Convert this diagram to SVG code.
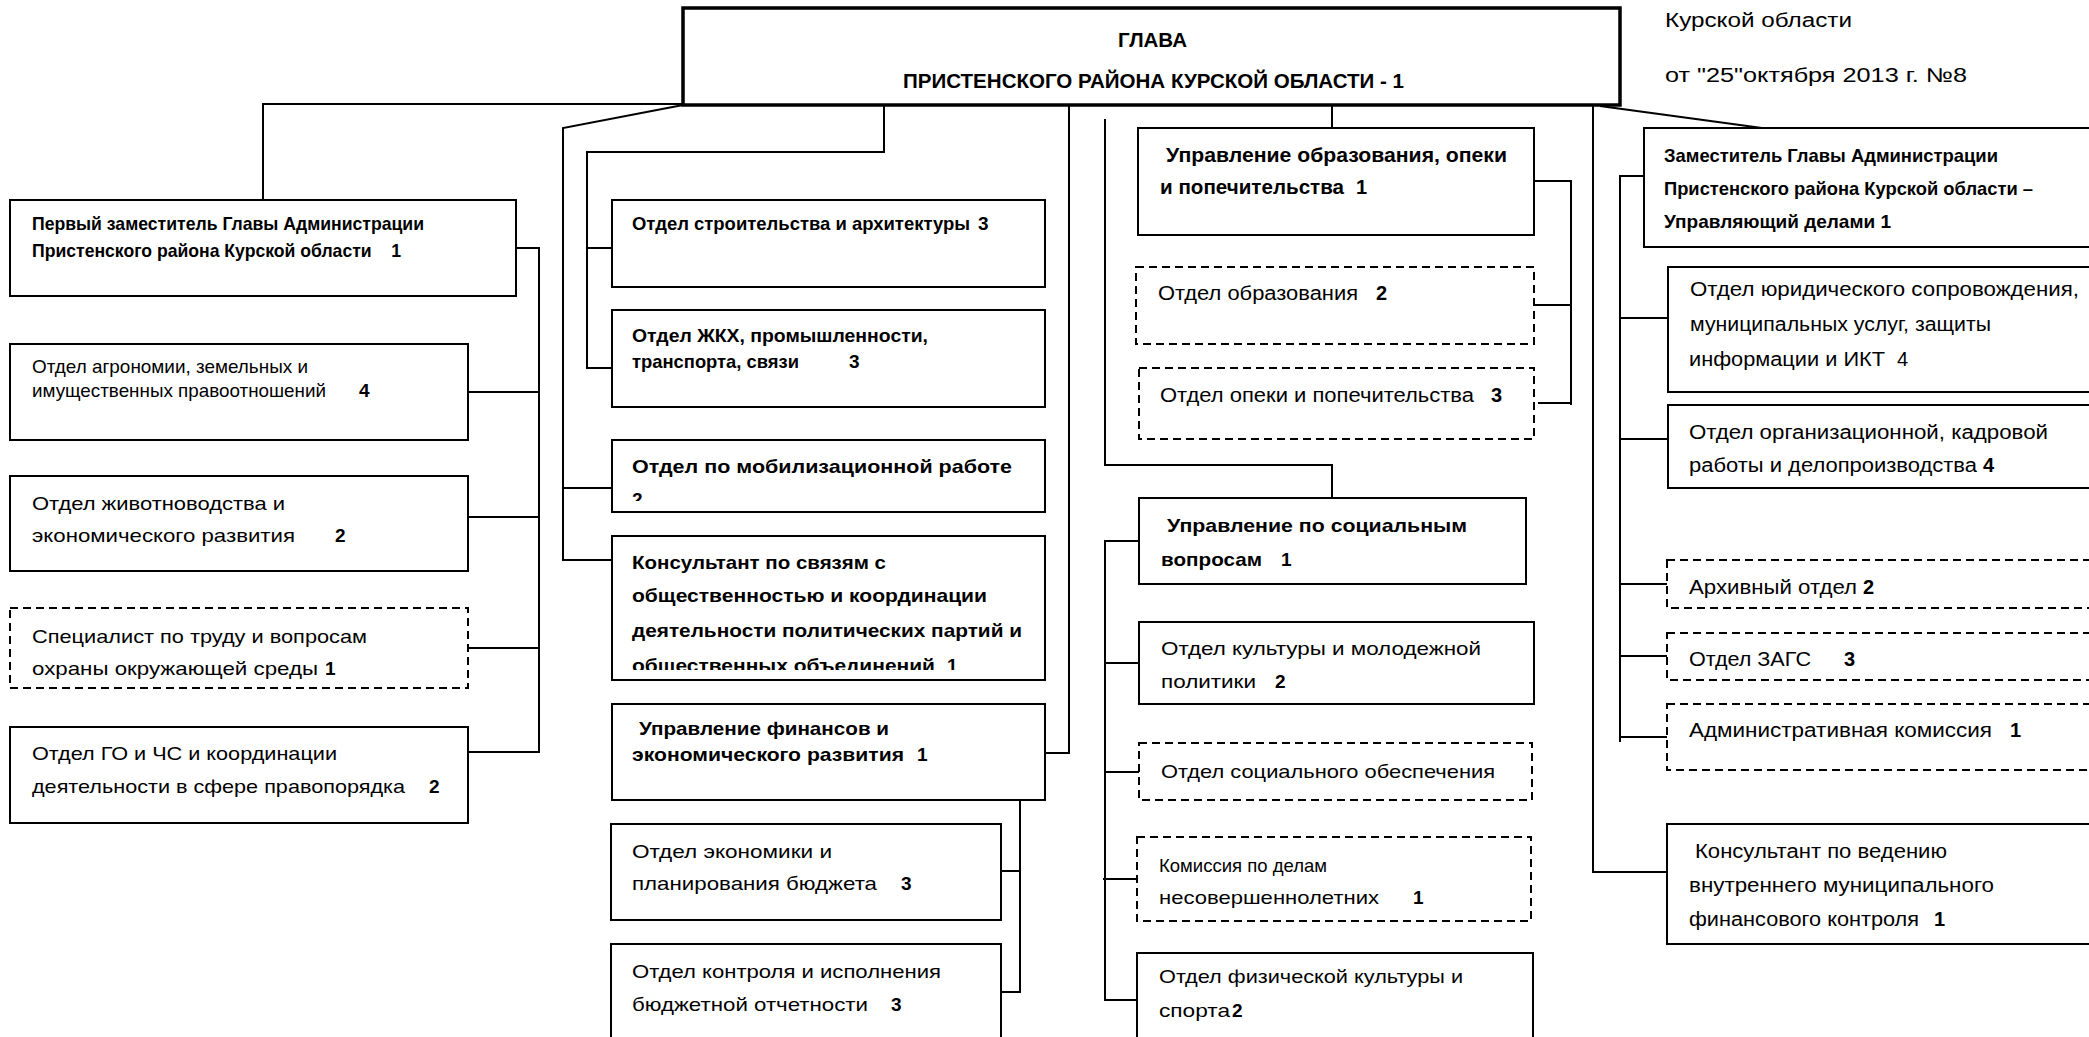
<svg xmlns="http://www.w3.org/2000/svg" width="2089" height="1037" viewBox="0 0 2089 1037">
<style>
.b{fill:#fff;stroke:#000;stroke-width:2}
.d{fill:#fff;stroke:#000;stroke-width:2;stroke-dasharray:8 5}
.h{fill:#fff;stroke:#000;stroke-width:3.5}
.c{fill:none;stroke:#000;stroke-width:2}
text{font-family:"Liberation Sans",Arial,sans-serif;font-size:19px;fill:#000}
.bo{font-weight:bold}
.l{font-size:20px}
.hd{font-size:21px;font-weight:bold}
</style>
<defs>
<clipPath id="clipMob"><rect x="611" y="438" width="434" height="63"/></clipPath>
<clipPath id="clipKons"><rect x="611" y="535" width="434" height="135"/></clipPath>
</defs>
<rect width="2089" height="1037" fill="#fff"/>

<g id="connectors">
<polyline class="c" points="683,104 263,104 263,200"/>
<polyline class="c" points="683,105 563,128 563,560 612,560"/>
<line class="c" x1="563" y1="488" x2="612" y2="488"/>
<polyline class="c" points="884,105 884,152 587,152 587,368 612,368"/>
<line class="c" x1="587" y1="248" x2="612" y2="248"/>
<polyline class="c" points="1069,105 1069,753 1044,753"/>
<polyline class="c" points="1105,119 1105,465 1332,465 1332,498"/>
<line class="c" x1="1332" y1="105" x2="1332" y2="128"/>
<polyline class="c" points="1534,181 1571,181 1571,405"/>
<line class="c" x1="1534" y1="305" x2="1571" y2="305"/>
<line class="c" x1="1538" y1="403" x2="1571" y2="403"/>
<polyline class="c" points="1593,105 1593,872 1667,872"/>
<line class="c" x1="1600" y1="106" x2="1762" y2="128"/>
<polyline class="c" points="1644,176 1620,176 1620,742"/>
<line class="c" x1="1620" y1="318" x2="1668" y2="318"/>
<line class="c" x1="1620" y1="439" x2="1668" y2="439"/>
<line class="c" x1="1620" y1="584" x2="1667" y2="584"/>
<line class="c" x1="1620" y1="656" x2="1667" y2="656"/>
<line class="c" x1="1620" y1="737" x2="1667" y2="737"/>
<polyline class="c" points="516,248 539,248 539,752 468,752"/>
<line class="c" x1="468" y1="392" x2="539" y2="392"/>
<line class="c" x1="468" y1="517" x2="539" y2="517"/>
<line class="c" x1="468" y1="648" x2="539" y2="648"/>
<polyline class="c" points="1020,800 1020,992 1001,992"/>
<line class="c" x1="1001" y1="871" x2="1020" y2="871"/>
<polyline class="c" points="1139,541 1105,541 1105,1000 1137,1000"/>
<line class="c" x1="1105" y1="663" x2="1139" y2="663"/>
<line class="c" x1="1105" y1="772" x2="1139" y2="772"/>
<line class="c" x1="1103" y1="879" x2="1137" y2="879"/>
</g>

<g id="head">
<rect class="h" x="683" y="8" width="937" height="97"/>
<text class="hd" x="1118" y="47" textLength="69" lengthAdjust="spacingAndGlyphs">ГЛАВА</text>
<text class="hd" x="903" y="88" textLength="501" lengthAdjust="spacingAndGlyphs">ПРИСТЕНСКОГО РАЙОНА КУРСКОЙ ОБЛАСТИ - 1</text>
</g>

<g id="note">
<text class="l" x="1665" y="27" textLength="187" lengthAdjust="spacingAndGlyphs">Курской области</text>
<text class="l" x="1665" y="82" textLength="302" lengthAdjust="spacingAndGlyphs">от "25"октября 2013 г.  №8</text>
</g>

<g id="first-deputy">
<rect class="b" x="10" y="200" width="506" height="96"/>
<text class="bo" x="32" y="230" textLength="392" lengthAdjust="spacingAndGlyphs">Первый заместитель Главы Администрации</text>
<text class="bo" x="32" y="257" textLength="369" lengthAdjust="spacingAndGlyphs" xml:space="preserve">Пристенского района Курской области    1</text>
</g>

<g id="agronomy">
<rect class="b" x="10" y="344" width="458" height="96"/>
<text x="32" y="373" textLength="276" lengthAdjust="spacingAndGlyphs">Отдел агрономии, земельных и</text>
<text x="32" y="397" textLength="294" lengthAdjust="spacingAndGlyphs">имущественных правоотношений</text>
<text class="bo" x="359" y="397">4</text>
</g>

<g id="livestock">
<rect class="b" x="10" y="476" width="458" height="95"/>
<text x="32" y="510" textLength="253" lengthAdjust="spacingAndGlyphs">Отдел животноводства и</text>
<text x="32" y="542" textLength="263" lengthAdjust="spacingAndGlyphs">экономического развития</text>
<text class="bo" x="335" y="542">2</text>
</g>

<g id="labour">
<rect class="d" x="10" y="608" width="458" height="80"/>
<text x="32" y="643" textLength="335" lengthAdjust="spacingAndGlyphs">Специалист по труду и вопросам</text>
<text x="32" y="675" textLength="286" lengthAdjust="spacingAndGlyphs">охраны окружающей среды</text>
<text class="bo" x="325" y="675">1</text>
</g>

<g id="go-chs">
<rect class="b" x="10" y="727" width="458" height="96"/>
<text x="32" y="760" textLength="305" lengthAdjust="spacingAndGlyphs">Отдел ГО и ЧС и координации</text>
<text x="32" y="793" textLength="373" lengthAdjust="spacingAndGlyphs">деятельности в сфере правопорядка</text>
<text class="bo" x="429" y="793">2</text>
</g>

<g id="construction">
<rect class="b" x="612" y="200" width="433" height="87"/>
<text class="bo" x="632" y="230" textLength="338" lengthAdjust="spacingAndGlyphs">Отдел  строительства и архитектуры</text>
<text class="bo" x="978" y="230">3</text>
</g>

<g id="housing">
<rect class="b" x="612" y="310" width="433" height="97"/>
<text class="bo" x="632" y="342" textLength="296" lengthAdjust="spacingAndGlyphs">Отдел  ЖКХ, промышленности,</text>
<text class="bo" x="632" y="368" textLength="167" lengthAdjust="spacingAndGlyphs">транспорта, связи</text>
<text class="bo" x="849" y="368">3</text>
</g>

<g id="mobilization">
<rect class="b" x="612" y="440" width="433" height="72"/>
<g clip-path="url(#clipMob)">
<text class="bo" x="632" y="473" textLength="380" lengthAdjust="spacingAndGlyphs">Отдел по мобилизационной  работе</text>
<text class="bo" x="632" y="506">2</text>
</g>
</g>

<g id="pr-consultant">
<rect class="b" x="612" y="536" width="433" height="144"/>
<g clip-path="url(#clipKons)">
<text class="bo" x="632" y="569" textLength="254" lengthAdjust="spacingAndGlyphs">Консультант по связям с</text>
<text class="bo" x="632" y="602" textLength="355" lengthAdjust="spacingAndGlyphs">общественностью и координации</text>
<text class="bo" x="632" y="637" textLength="390" lengthAdjust="spacingAndGlyphs">деятельности политических партий и</text>
<text class="bo" x="632" y="672" textLength="303" lengthAdjust="spacingAndGlyphs">общественных объединений</text>
<text class="bo" x="947" y="672">1</text>
</g>
</g>

<g id="finance">
<rect class="b" x="612" y="704" width="433" height="96"/>
<text class="bo" x="639" y="735" textLength="250" lengthAdjust="spacingAndGlyphs">Управление финансов и</text>
<text class="bo" x="632" y="761" textLength="272" lengthAdjust="spacingAndGlyphs">экономического развития</text>
<text class="bo" x="917" y="761">1</text>
</g>

<g id="economy">
<rect class="b" x="611" y="824" width="390" height="96"/>
<text x="632" y="858" textLength="200" lengthAdjust="spacingAndGlyphs">Отдел экономики и</text>
<text x="632" y="890" textLength="245" lengthAdjust="spacingAndGlyphs">планирования бюджета</text>
<text class="bo" x="901" y="890">3</text>
</g>

<g id="control">
<rect class="b" x="611" y="944" width="390" height="100"/>
<text x="632" y="978" textLength="309" lengthAdjust="spacingAndGlyphs">Отдел контроля и исполнения</text>
<text x="632" y="1011" textLength="236" lengthAdjust="spacingAndGlyphs">бюджетной отчетности</text>
<text class="bo" x="891" y="1011">3</text>
</g>

<g id="education-dept">
<rect class="b" x="1138" y="128" width="396" height="107"/>
<text class="bo l" x="1166" y="162" textLength="341" lengthAdjust="spacingAndGlyphs">Управление образования, опеки</text>
<text class="bo l" x="1160" y="194" textLength="184" lengthAdjust="spacingAndGlyphs">и попечительства</text>
<text class="bo l" x="1356" y="194">1</text>
</g>

<g id="education">
<rect class="d" x="1136" y="267" width="398" height="77"/>
<text class="l" x="1158" y="300" textLength="200" lengthAdjust="spacingAndGlyphs">Отдел образования</text>
<text class="bo l" x="1376" y="300">2</text>
</g>

<g id="guardianship">
<rect class="d" x="1139" y="368" width="395" height="71"/>
<text class="l" x="1160" y="402" textLength="314" lengthAdjust="spacingAndGlyphs">Отдел опеки и попечительства</text>
<text class="bo l" x="1491" y="402">3</text>
</g>

<g id="social-dept">
<rect class="b" x="1139" y="498" width="387" height="86"/>
<text class="bo" x="1167" y="532" textLength="300" lengthAdjust="spacingAndGlyphs">Управление  по социальным</text>
<text class="bo" x="1161" y="566" textLength="101" lengthAdjust="spacingAndGlyphs">вопросам</text>
<text class="bo" x="1281" y="566">1</text>
</g>

<g id="culture">
<rect class="b" x="1139" y="622" width="395" height="82"/>
<text x="1161" y="655" textLength="320" lengthAdjust="spacingAndGlyphs">Отдел культуры и молодежной</text>
<text x="1161" y="688" textLength="95" lengthAdjust="spacingAndGlyphs">политики</text>
<text class="bo" x="1275" y="688">2</text>
</g>

<g id="social-security">
<rect class="d" x="1139" y="743" width="393" height="57"/>
<text x="1161" y="778" textLength="334" lengthAdjust="spacingAndGlyphs">Отдел социального обеспечения</text>
</g>

<g id="minors">
<rect class="d" x="1137" y="837" width="394" height="84"/>
<text x="1159" y="872" textLength="168" lengthAdjust="spacingAndGlyphs">Комиссия по делам</text>
<text x="1159" y="904" textLength="220" lengthAdjust="spacingAndGlyphs">несовершеннолетних</text>
<text class="bo" x="1413" y="904">1</text>
</g>

<g id="sport">
<rect class="b" x="1137" y="953" width="396" height="95"/>
<text x="1159" y="983" textLength="304" lengthAdjust="spacingAndGlyphs">Отдел физической культуры и</text>
<text x="1159" y="1017" textLength="71" lengthAdjust="spacingAndGlyphs">спорта</text>
<text class="bo" x="1232" y="1017">2</text>
</g>

<g id="deputy-affairs">
<rect class="b" x="1644" y="128" width="460" height="119"/>
<text class="bo" x="1664" y="162" textLength="334" lengthAdjust="spacingAndGlyphs">Заместитель Главы   Администрации</text>
<text class="bo" x="1664" y="195" textLength="369" lengthAdjust="spacingAndGlyphs">Пристенского района  Курской области –</text>
<text class="bo" x="1664" y="228" textLength="227" lengthAdjust="spacingAndGlyphs">Управляющий делами 1</text>
</g>

<g id="legal">
<rect class="b" x="1668" y="267" width="436" height="125"/>
<text class="l" x="1690" y="296" textLength="389" lengthAdjust="spacingAndGlyphs">Отдел юридического сопровождения,</text>
<text class="l" x="1690" y="331" textLength="301" lengthAdjust="spacingAndGlyphs">муниципальных услуг, защиты</text>
<text class="l" x="1689" y="366" textLength="196" lengthAdjust="spacingAndGlyphs">информации и ИКТ</text>
<text class="l" x="1897" y="366">4</text>
</g>

<g id="personnel">
<rect class="b" x="1668" y="405" width="436" height="83"/>
<text class="l" x="1689" y="439" textLength="359" lengthAdjust="spacingAndGlyphs">Отдел организационной, кадровой</text>
<text class="l" x="1689" y="472" textLength="288" lengthAdjust="spacingAndGlyphs">работы и делопроизводства</text>
<text class="bo l" x="1983" y="472">4</text>
</g>

<g id="archive">
<rect class="d" x="1667" y="560" width="437" height="48"/>
<text class="l" x="1689" y="594" textLength="168" lengthAdjust="spacingAndGlyphs">Архивный отдел</text>
<text class="bo l" x="1863" y="594">2</text>
</g>

<g id="zags">
<rect class="d" x="1667" y="633" width="437" height="47"/>
<text class="l" x="1689" y="666" textLength="122" lengthAdjust="spacingAndGlyphs">Отдел  ЗАГС</text>
<text class="bo l" x="1844" y="666">3</text>
</g>

<g id="admin-commission">
<rect class="d" x="1667" y="704" width="437" height="66"/>
<text class="l" x="1689" y="737" textLength="303" lengthAdjust="spacingAndGlyphs">Административная  комиссия</text>
<text class="bo l" x="2010" y="737">1</text>
</g>

<g id="audit-consultant">
<rect class="b" x="1667" y="824" width="437" height="120"/>
<text class="l" x="1695" y="858" textLength="252" lengthAdjust="spacingAndGlyphs">Консультант по ведению</text>
<text class="l" x="1689" y="892" textLength="305" lengthAdjust="spacingAndGlyphs">внутреннего муниципального</text>
<text class="l" x="1689" y="926" textLength="230" lengthAdjust="spacingAndGlyphs">финансового контроля</text>
<text class="bo l" x="1934" y="926">1</text>
</g>
</svg>
